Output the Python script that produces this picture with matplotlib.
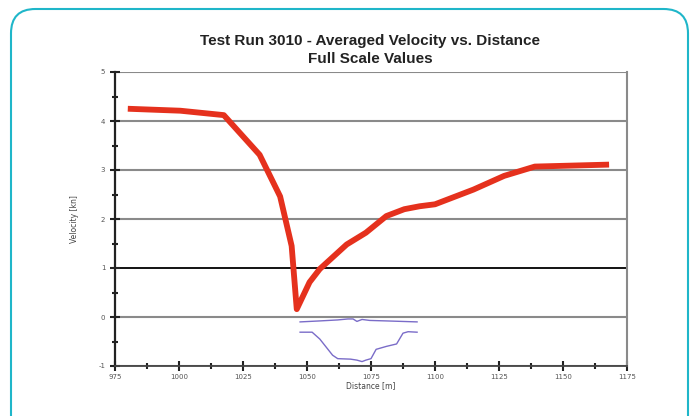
import matplotlib
matplotlib.use("Agg")
import matplotlib.pyplot as plt
from matplotlib.patches import FancyBboxPatch
from matplotlib.ticker import MultipleLocator

plt.rcParams["axes.unicode_minus"] = False

# averaged velocity along the run
dist = [980, 1000.5, 1017.5, 1031.5, 1039.5, 1044, 1046, 1051, 1055, 1065.5,
        1073, 1081, 1088, 1094, 1100, 1115, 1127, 1139, 1168]
vel = [4.25, 4.21, 4.12, 3.31, 2.46, 1.45, 0.16, 0.71, 0.98, 1.48,
       1.72, 2.06, 2.2, 2.26, 2.3, 2.6, 2.88, 3.07, 3.11]

# hull profile traces under the curve
top_x = [1047.3, 1055, 1062, 1066, 1068, 1069.5, 1071.5, 1074.5, 1081, 1093]
top_y = [-0.10, -0.08, -0.06, -0.04, -0.04, -0.09, -0.05, -0.07, -0.08, -0.10]
bot_x = [1047.3, 1052, 1055, 1060, 1062, 1067, 1069.5, 1071.5, 1073, 1075,
         1077, 1081, 1085, 1087.5, 1089.5, 1093]
bot_y = [-0.31, -0.31, -0.45, -0.78, -0.85, -0.86, -0.88, -0.91, -0.88, -0.85,
         -0.66, -0.60, -0.55, -0.33, -0.30, -0.31]

fig = plt.figure(figsize=(6.96, 4.16), dpi=100)
fig.patch.set_facecolor("white")

# rounded teal frame
frame = FancyBboxPatch((11 / 696, -0.2), 677 / 696, 1.2 - 9 / 416,
                       boxstyle="round,pad=0,rounding_size=0.035",
                       transform=fig.transFigure, fill=False,
                       edgecolor="#1fb6c9", linewidth=1.5, mutation_aspect=696 / 416)
fig.patches.append(frame)

ax = fig.add_axes([115 / 696, 1 - 366 / 416, 512 / 696, 294 / 416])
ax.set_xlim(975, 1175)
ax.set_ylim(-1, 5)

for yv in range(-1, 6):
    ax.axhline(yv, color="black" if yv == 1 else "#8a8a8a",
               lw=1.3 if yv == 1 else 1.5, zorder=1)

ax.plot(dist, vel, color="#e5311d", lw=4.2, solid_capstyle="butt", zorder=3)
ax.plot(top_x, top_y, color="#7a6cc8", lw=1, zorder=2)
ax.plot(bot_x, bot_y, color="#7a6cc8", lw=1, zorder=2)

ax.spines["left"].set_color("#222222")
ax.spines["left"].set_linewidth(1.6)
ax.spines["bottom"].set_color("#444444")
ax.spines["bottom"].set_linewidth(1.3)
ax.spines["right"].set_color("#8a8a8a")
ax.spines["right"].set_linewidth(1.5)
ax.spines["top"].set_visible(False)

ax.xaxis.set_major_locator(MultipleLocator(25))
ax.xaxis.set_minor_locator(MultipleLocator(12.5))
ax.yaxis.set_major_locator(MultipleLocator(1))
ax.yaxis.set_minor_locator(MultipleLocator(0.5))
ax.tick_params(which="both", direction="inout", color="#222222", width=1.5,
               labelsize=5, labelcolor="#555555")
ax.tick_params(which="major", length=7)
ax.tick_params(which="minor", length=5)
ax.tick_params(axis="x", pad=2)

ax.set_xlabel("Distance [m]", fontsize=5.5, color="#444444", labelpad=1)
ax.set_ylabel("Velocity [kn]", fontsize=5.5, color="#444444", labelpad=14)

fig.text(0.532, 1 - 41 / 416, "Test Run 3010 - Averaged Velocity vs. Distance",
         ha="center", va="center", fontsize=11, fontweight="bold",
         family="Liberation Sans", color="#222222")
fig.text(0.532, 1 - 59 / 416, "Full Scale Values",
         ha="center", va="center", fontsize=11, fontweight="bold",
         family="Liberation Sans", color="#222222")

fig.savefig("out.png", dpi=100)
